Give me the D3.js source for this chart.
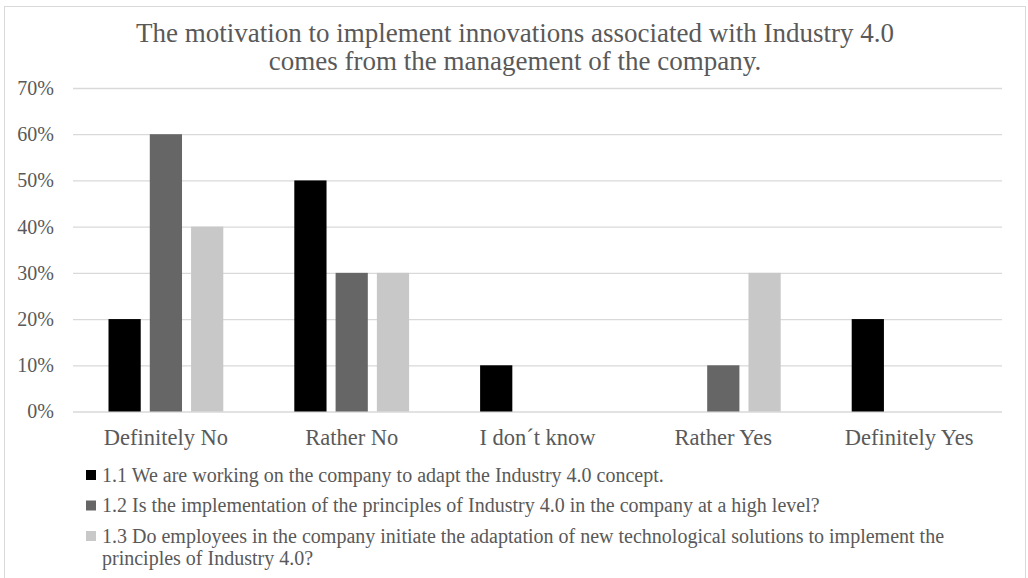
<!DOCTYPE html>
<html>
<head>
<meta charset="utf-8">
<script src="https://cdn.jsdelivr.net/npm/d3@7"></script>
<style>
  html, body { margin: 0; padding: 0; background: #ffffff; }
  svg { display: block; }
  svg text { font-family: "Liberation Serif", Tinos, "Times New Roman", Times, "DejaVu Serif", serif; fill: #595959; }
</style>
</head>
<body>
<svg id="chart" width="1028" height="578"></svg>
<script>
// Survey answers (share of respondents) per statement
const categories = ["Definitely No", "Rather No", "I don\u00b4t know", "Rather Yes", "Definitely Yes"];
const seriesNames = [
  "1.1 We are working on the company to adapt the Industry 4.0 concept.",
  "1.2 Is the implementation of the principles of Industry 4.0 in the company at a high level?",
  "1.3 Do employees in the company initiate the adaptation of new technological solutions to implement the principles of Industry 4.0?"
];
const values11 = [0.20, 0.50, 0.10, 0.00, 0.20];
const values12 = [0.60, 0.30, 0.00, 0.10, 0.00];
const values13 = [0.40, 0.30, 0.00, 0.30, 0.00];
const yTicks = [0, 0.1, 0.2, 0.3, 0.4, 0.5, 0.6, 0.7];
const titleLines = [
  "The motivation to implement innovations associated with Industry 4.0",
  "comes from the management of the company."
];
const seriesColors = ["#000000", "#666666", "#c8c8c8"];

const seriesValues = [values11, values12, values13];
const rows = categories.map((c, i) => ({
  category: c,
  bars: seriesValues.map((vals, s) => ({ series: s, value: vals[i] }))
}));

const FONT = "'Liberation Serif', Tinos, 'Times New Roman', Times, 'DejaVu Serif', serif";
const svg = d3.select("#chart").attr("font-family", FONT);

// chart frame
svg.append("rect")
  .attr("x", 4.5).attr("y", 6.5)
  .attr("width", 1021).attr("height", 600)
  .attr("fill", "#ffffff")
  .attr("stroke", "#d9d9d9").attr("stroke-width", 1);

const plot = { left: 73, right: 1002, top: 88, bottom: 411.5 };

const x0 = d3.scaleBand()
  .domain(categories)
  .range([plot.left, plot.right])
  .paddingInner(0).paddingOuter(0);

const x1 = d3.scaleBand()
  .domain(d3.range(seriesValues.length))
  .range([0, x0.bandwidth()])
  .paddingInner(9 / 41)
  .paddingOuter(0.86);

const y = d3.scaleLinear()
  .domain([0, 0.7])
  .range([plot.bottom, plot.top]);

// horizontal gridlines and percentage labels
const yAxis = d3.axisLeft(y)
  .tickValues(yTicks)
  .tickFormat(d3.format(".0%"))
  .tickSize(-(plot.right - plot.left))
  .tickPadding(19);

const gy = svg.append("g")
  .attr("transform", `translate(${plot.left},0)`)
  .call(yAxis)
  .attr("font-family", FONT);
gy.select(".domain").remove();
gy.selectAll(".tick line").attr("stroke", "#d9d9d9").attr("stroke-width", 1.3);
gy.selectAll(".tick text")
  .attr("font-size", 20)
  .attr("fill", "#595959");

// grouped bars
const groups = svg.append("g").selectAll("g")
  .data(rows)
  .join("g")
  .attr("transform", d => `translate(${x0(d.category)},0)`);

groups.selectAll("rect")
  .data(d => d.bars.filter(b => b.value > 0))
  .join("rect")
  .attr("x", b => x1(b.series))
  .attr("width", x1.bandwidth())
  .attr("y", b => y(b.value))
  .attr("height", b => y(0) - y(b.value))
  .attr("fill", b => seriesColors[b.series]);

// category labels
const xAxis = d3.axisBottom(x0).tickSize(0).tickPadding(18);
const gx = svg.append("g")
  .attr("transform", `translate(0,${plot.bottom})`)
  .call(xAxis)
  .attr("font-family", FONT);
gx.select(".domain").remove();
gx.selectAll(".tick text")
  .attr("font-size", 22.5)
  .attr("fill", "#595959");

// title
svg.append("text")
  .attr("x", 515)
  .attr("text-anchor", "middle")
  .attr("font-size", 27)
  .selectAll("tspan")
  .data(titleLines)
  .join("tspan")
  .attr("x", 515)
  .attr("y", (d, i) => 42 + i * 28)
  .text(d => d);

// legend, one entry per row, long entries wrapped
const legend = svg.append("g");
const legendX = 86, legendTextX = 102, legendMaxWidth = 890;
let baseline = 481.5;
seriesNames.forEach((name, i) => {
  legend.append("rect")
    .attr("x", legendX).attr("y", baseline - 11.5)
    .attr("width", 10).attr("height", 10)
    .attr("fill", seriesColors[i]);
  const t = legend.append("text")
    .attr("x", legendTextX).attr("y", baseline)
    .attr("font-size", 20);
  const words = name.split(" ");
  let line = [];
  let tspan = t.append("tspan").attr("x", legendTextX).attr("y", baseline);
  let lines = 1;
  words.forEach(w => {
    line.push(w);
    tspan.text(line.join(" "));
    if (tspan.node().getComputedTextLength() > legendMaxWidth && line.length > 1) {
      line.pop();
      tspan.text(line.join(" "));
      line = [w];
      tspan = t.append("tspan")
        .attr("x", legendTextX)
        .attr("y", baseline + lines * 22)
        .text(w);
      lines += 1;
    }
  });
  baseline += 30.5 + (lines - 1) * 22;
});
</script>
</body>
</html>
